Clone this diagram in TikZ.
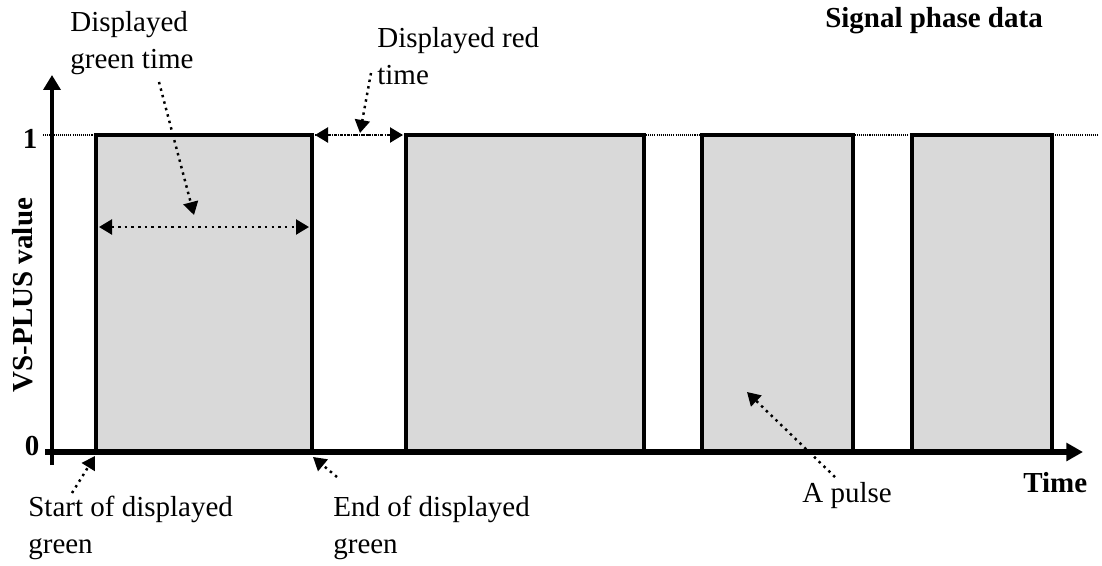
\documentclass[tikz,border=0pt]{standalone}
\usepackage{fontspec}
\setmainfont{Liberation Serif}
\usetikzlibrary{arrows.meta}
\tikzset{
  lbl/.style={font=\fontsize{16.5}{20.5}\selectfont, inner sep=0pt, align=left},
  boldlbl/.style={font=\fontsize{16.5}{20.5}\selectfont\bfseries, inner sep=0pt},
  pulsebox/.style={fill=black!15, draw=black, line width=2.8pt},
  callout/.style={line width=1.4pt, dash pattern=on 1.4pt off 2.4pt,
    -{Triangle[length=7.4pt,width=8.5pt]}},
  gapspan/.style={callout,
    {Triangle[length=7.4pt,width=8.5pt]}-{Triangle[length=7.4pt,width=8.5pt]}},
}
\newcommand{\pulse}[2]{% grey pulse between x=#1 and x=#2
  \draw[pulsebox] (#1,135) rectangle (#2,452);
}

\begin{document}
\begin{tikzpicture}[x=0.02cm,y=-0.02cm]
  \useasboundingbox (0,0) rectangle (1102,565);
  % reference line at value 1
  \draw[line width=0.6pt, dash pattern=on 0.6pt off 0.6pt] (43,135) -- (1098,135);
  \pulse{96}{312} \pulse{406}{644} \pulse{702}{853} \pulse{912}{1052}
  % axes
  \coordinate (yfoot) at (52,465); \coordinate (ytip) at (52,75);
  \coordinate (xfoot) at (45,452); \coordinate (xtip) at (1083,452);
  \draw[line width=2.2pt, -{Triangle[length=8.5pt,width=9.6pt]}] (yfoot) -- (ytip);
  \draw[line width=3pt, -{Triangle[length=9.5pt,width=10pt]}] (xfoot) -- (xtip);
  \node[boldlbl, anchor=base] (one) at (30,148) {1};
  \node[boldlbl, anchor=base] (zero) at (32,455) {0};
  \node[boldlbl, rotate=90] (value) at (23,295) {VS-PLUS value};
  \node[boldlbl, anchor=base west] (time) at (1023,492) {Time};
  \node[boldlbl, anchor=base] (title) at (934,27) {Signal phase data};
  % labels (base anchor sits on the last line)
  \node[lbl, anchor=base west] (green) at (70,68) {Displayed\\green time};
  \node[lbl, anchor=base west] (red) at (377,84) {Displayed red\\time};
  \node[lbl, anchor=base west] (start) at (28,553) {Start of displayed\\green};
  \node[lbl, anchor=base west] (end) at (333,553) {End of displayed\\green};
  \node[lbl, anchor=base west] (apulse) at (802,502) {A pulse};
  % callouts
  \coordinate (g1) at (159,82);  \coordinate (g2) at (194,215);
  \coordinate (r1) at (371,73);  \coordinate (r2) at (360,133);
  \coordinate (s1) at (72,493);  \coordinate (s2) at (95,456);
  \coordinate (e1) at (337,477); \coordinate (e2) at (313,457);
  \coordinate (p1) at (835,477); \coordinate (p2) at (747,392);
  \coordinate (gl) at (99,227);  \coordinate (gr) at (309,227);
  \coordinate (rl) at (315,135); \coordinate (rr) at (403,135);
  \draw[callout] (g1) -- (g2);
  \draw[callout] (r1) -- (r2);
  \draw[callout] (s1) -- (s2);
  \draw[callout] (e1) -- (e2);
  \draw[callout] (p1) -- (p2);
  \draw[gapspan] (gl) -- (gr);
  \draw[gapspan] (rl) -- (rr);
\end{tikzpicture}
\end{document}
